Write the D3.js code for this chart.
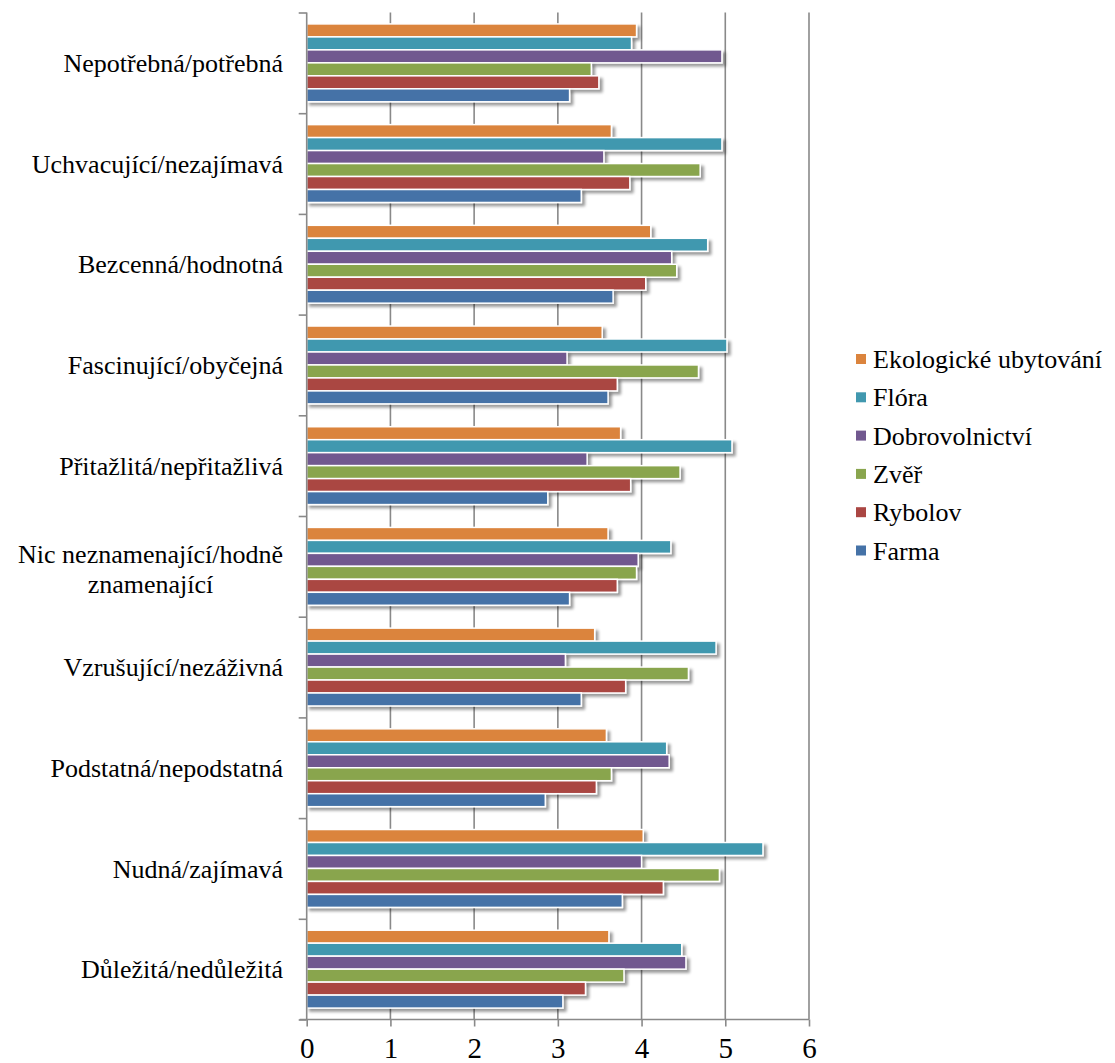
<!DOCTYPE html>
<html>
<head>
<meta charset="utf-8">
<script src="https://cdn.jsdelivr.net/npm/d3@7"></script>
<style>
  body { margin: 0; background: #fff; }
</style>
</head>
<body>
<svg id="chart" width="1115" height="1063"></svg>
<script>
// Category labels, top to bottom
const categories = [
  "Nepotřebná/potřebná",
  "Uchvacující/nezajímavá",
  "Bezcenná/hodnotná",
  "Fascinující/obyčejná",
  "Přitažlitá/nepřitažlivá",
  "Nic neznamenající/hodně znamenající",
  "Vzrušující/nezáživná",
  "Podstatná/nepodstatná",
  "Nudná/zajímavá",
  "Důležitá/nedůležitá"
];

// Series names (legend order, top to bottom)
const seriesNames = ["Ekologické ubytování", "Flóra", "Dobrovolnictví", "Zvěř", "Rybolov", "Farma"];
const seriesColors = ["#DB843D", "#4198AF", "#71588F", "#89A54E", "#AA4643", "#4572A7"];

// Values per series, in category order
const ekologicke     = [3.94, 3.64, 4.11, 3.53, 3.75, 3.60, 3.44, 3.58, 4.02, 3.61];
const flora          = [3.88, 4.96, 4.79, 5.02, 5.08, 4.35, 4.89, 4.30, 5.45, 4.48];
const dobrovolnictvi = [4.96, 3.55, 4.36, 3.11, 3.35, 3.96, 3.09, 4.33, 4.00, 4.53];
const zver           = [3.40, 4.70, 4.42, 4.68, 4.46, 3.94, 4.56, 3.64, 4.93, 3.79];
const rybolov        = [3.49, 3.86, 4.05, 3.71, 3.87, 3.71, 3.81, 3.46, 4.26, 3.33];
const farma          = [3.14, 3.28, 3.66, 3.60, 2.88, 3.14, 3.28, 2.85, 3.77, 3.06];

const xTicks = [0, 1, 2, 3, 4, 5, 6];

const seriesValues = [ekologicke, flora, dobrovolnictvi, zver, rybolov, farma];

const FONT = "'Liberation Serif', 'Times New Roman', serif";
const svg = d3.select("#chart");

const plot = { left: 306.7, right: 809, top: 12.5, bottom: 1019.5 };

const x = d3.scaleLinear().domain([0, 6]).range([plot.left, plot.right]);
const y = d3.scaleBand().domain(categories).range([plot.top, plot.bottom]).padding(0);
const yInner = d3.scaleBand().domain(seriesNames).range([0, y.bandwidth()])
  .paddingInner(0).paddingOuter(0.88);
const color = d3.scaleOrdinal().domain(seriesNames).range(seriesColors);

// Drop shadow for bars
const defs = svg.append("defs");
const f = defs.append("filter").attr("id", "shadow")
  .attr("x", "-5%").attr("y", "-40%").attr("width", "115%").attr("height", "200%");
f.append("feGaussianBlur").attr("in", "SourceAlpha").attr("stdDeviation", 1.8).attr("result", "blur");
f.append("feOffset").attr("in", "blur").attr("dx", 2.5).attr("dy", 3).attr("result", "off");
f.append("feComponentTransfer").attr("in", "off").attr("result", "shadow")
  .append("feFuncA").attr("type", "linear").attr("slope", 0.4);
const merge = f.append("feMerge");
merge.append("feMergeNode").attr("in", "shadow");
merge.append("feMergeNode").attr("in", "SourceGraphic");

// Vertical gridlines
svg.append("g")
  .selectAll("line")
  .data(xTicks.filter(d => d > 0))
  .join("line")
  .attr("x1", d => x(d)).attr("x2", d => x(d))
  .attr("y1", plot.top).attr("y2", plot.bottom)
  .attr("stroke", "#898989").attr("stroke-width", 1.6);

// Bars
const rows = [];
categories.forEach((c, i) => {
  seriesNames.forEach((s, j) => rows.push({ cat: c, series: s, value: seriesValues[j][i] }));
});

svg.append("g")
  .selectAll("rect")
  .data(rows)
  .join("rect")
  .attr("x", x(0))
  .attr("y", d => y(d.cat) + yInner(d.series))
  .attr("width", d => x(d.value) - x(0))
  .attr("height", yInner.bandwidth())
  .attr("fill", d => color(d.series))
  .attr("stroke", "#fff")
  .attr("stroke-width", 1.5)
  .attr("filter", "url(#shadow)");

// Category axis (ticks at category boundaries)
const boundary = d3.scaleLinear().domain([0, categories.length]).range([plot.top, plot.bottom]);
const leftAxis = svg.append("g")
  .attr("transform", `translate(${x(0)},0)`)
  .call(d3.axisLeft(boundary).tickValues(d3.range(0, categories.length + 1)).tickSize(8).tickFormat(""));
leftAxis.select(".domain").attr("stroke", "#898989").attr("stroke-width", 1.6).attr("d", `M0,${plot.top}V${plot.bottom}`);
leftAxis.selectAll(".tick line").attr("stroke", "#898989").attr("stroke-width", 1.6);

// Value axis
const bottomAxis = svg.append("g")
  .attr("transform", `translate(0,${plot.bottom})`)
  .call(d3.axisBottom(x).tickValues(xTicks).tickSize(7).tickPadding(11).tickFormat(d3.format("d")));
bottomAxis.select(".domain").attr("stroke", "#898989").attr("stroke-width", 1.6).attr("d", `M${x(0) - 7},0H${x(6)}`);
bottomAxis.selectAll(".tick line").attr("stroke", "#898989").attr("stroke-width", 1.6);
bottomAxis.selectAll(".tick text").attr("fill", "#000")
  .style("font-family", FONT).style("font-size", "29px");

// Category labels; the long label wraps onto two centred lines
const labelRight = 283;
const labels = svg.append("g");
const wrapped = { "Nic neznamenající/hodně znamenající": ["Nic neznamenající/hodně", "znamenající"] };
categories.forEach(c => {
  const cy = y(c) + y.bandwidth() / 2;
  const lines = wrapped[c];
  if (!lines) {
    labels.append("text").attr("x", labelRight).attr("y", cy).attr("dy", "0.35em")
      .attr("text-anchor", "end")
      .style("font-family", FONT).style("font-size", "26px").text(c);
  } else {
    const t = labels.append("text").attr("text-anchor", "middle")
      .style("font-family", FONT).style("font-size", "26px");
    const tmp = t.append("tspan").text(lines[0]);
    const w = tmp.node().getComputedTextLength();
    tmp.remove();
    const cx = labelRight - w / 2;
    lines.forEach((line, k) => {
      t.append("tspan").attr("x", cx).attr("y", cy + (k - (lines.length - 1) / 2) * 30 + 3)
        .attr("dy", "0.35em").text(line);
    });
  }
});

// Legend
const legend = svg.append("g").attr("transform", "translate(856,359)");
const item = legend.selectAll("g").data(seriesNames).join("g")
  .attr("transform", (d, i) => `translate(0,${i * 38.3})`);
item.append("rect").attr("x", 0).attr("y", -5).attr("width", 10).attr("height", 10)
  .attr("fill", d => color(d));
item.append("text").attr("x", 17).attr("y", 0).attr("dy", "0.35em").attr("fill", "#000")
  .style("font-family", FONT).style("font-size", "26px")
  .text(d => d);
</script>
</body>
</html>
